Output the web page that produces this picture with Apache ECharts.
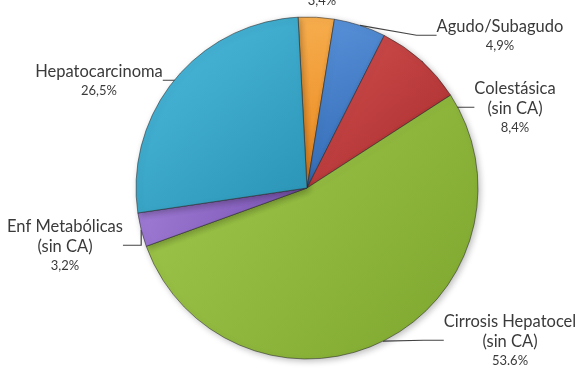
<!DOCTYPE html>
<html>
<head>
<meta charset="utf-8">
<script src="https://cdn.jsdelivr.net/npm/echarts@6/dist/echarts.min.js"></script>
<style>html,body{margin:0;padding:0;background:#fff;}#c{width:587px;height:370px;}</style>
</head>
<body>
<div id="c"></div>
<script>
// Data
var categories = ['Otras', 'Agudo/Subagudo', 'Colestásica (sin CA)', 'Cirrosis Hepatocel (sin CA)', 'Enf Metabólicas (sin CA)', 'Hepatocarcinoma'];
var labelNames = ['Otras', 'Agudo/Subagudo', 'Colestásica\n(sin CA)', 'Cirrosis Hepatocel\n(sin CA)', 'Enf Metabólicas\n(sin CA)', 'Hepatocarcinoma'];
var values = [3.4, 4.9, 8.4, 53.6, 3.2, 26.5];
var valueLabels = ['3,4%', '4,9%', '8,4%', '53.6%', '3,2%', '26,5%'];

// Styles / layout
var colors = [
  ['#F7AE4E', '#E9861C'],
  ['#5A93DA', '#2E66B0'],
  ['#D2504F', '#A82B2D'],
  ['#A2C94E', '#7DA62E'],
  ['#A07CD6', '#7650AE'],
  ['#4DBBDD', '#2A93B5']
];
var labelPos = [
  [322, -9], [500, 36], [515, 108], [510, 341], [65, 246], [99, 81]
];

var chart = echarts.init(document.getElementById('c'), null, {renderer: 'canvas'});
var data = values.map(function (v, i) {
  var item = {
    name: categories[i],
    value: v,
    itemStyle: {
      color: new echarts.graphic.LinearGradient(0, 0, 1, 1, [
        {offset: 0, color: colors[i][0]},
        {offset: 1, color: colors[i][1]}
      ])
    }
  };
  if (i === 0) item.labelLine = {show: false};
  return item;
});

chart.setOption({
  backgroundColor: '#fff',
  animation: false,
  series: [{
    type: 'pie',
    center: [307, 188],
    radius: 171,
    startAngle: 93,
    clockwise: true,
    data: data,
    itemStyle: {
      borderColor: 'rgba(40,40,40,0.55)',
      borderWidth: 1,
      shadowBlur: 6,
      shadowOffsetX: 2,
      shadowOffsetY: 2,
      shadowColor: 'rgba(0,0,0,0.25)'
    },
    label: {
      show: true,
      position: 'outside',
      align: 'center',
      overflow: 'none',
      formatter: function (p) {
        var names = labelNames[p.dataIndex].split('\n').map(function (s) { return '{n|' + s + '}'; }).join('\n');
        return names + '\n{p|' + valueLabels[p.dataIndex] + '}';
      },
      rich: {
        n: {fontFamily: 'Lato', fontSize: 16.5, color: '#3a3a3a', lineHeight: 20, align: 'center'},
        p: {fontFamily: 'Lato', fontSize: 13, color: '#3a3a3a', lineHeight: 19, align: 'center'}
      }
    },
    labelLine: {
      show: true,
      length: 12,
      length2: 20,
      lineStyle: {color: '#444', width: 1.2}
    },
    labelLayout: function (params) {
      var pos = labelPos[params.dataIndex];
      return {
        x: pos[0],
        y: pos[1],
        align: 'center',
        verticalAlign: 'middle'
      };
    }
  }]
});
</script>
</body>
</html>
